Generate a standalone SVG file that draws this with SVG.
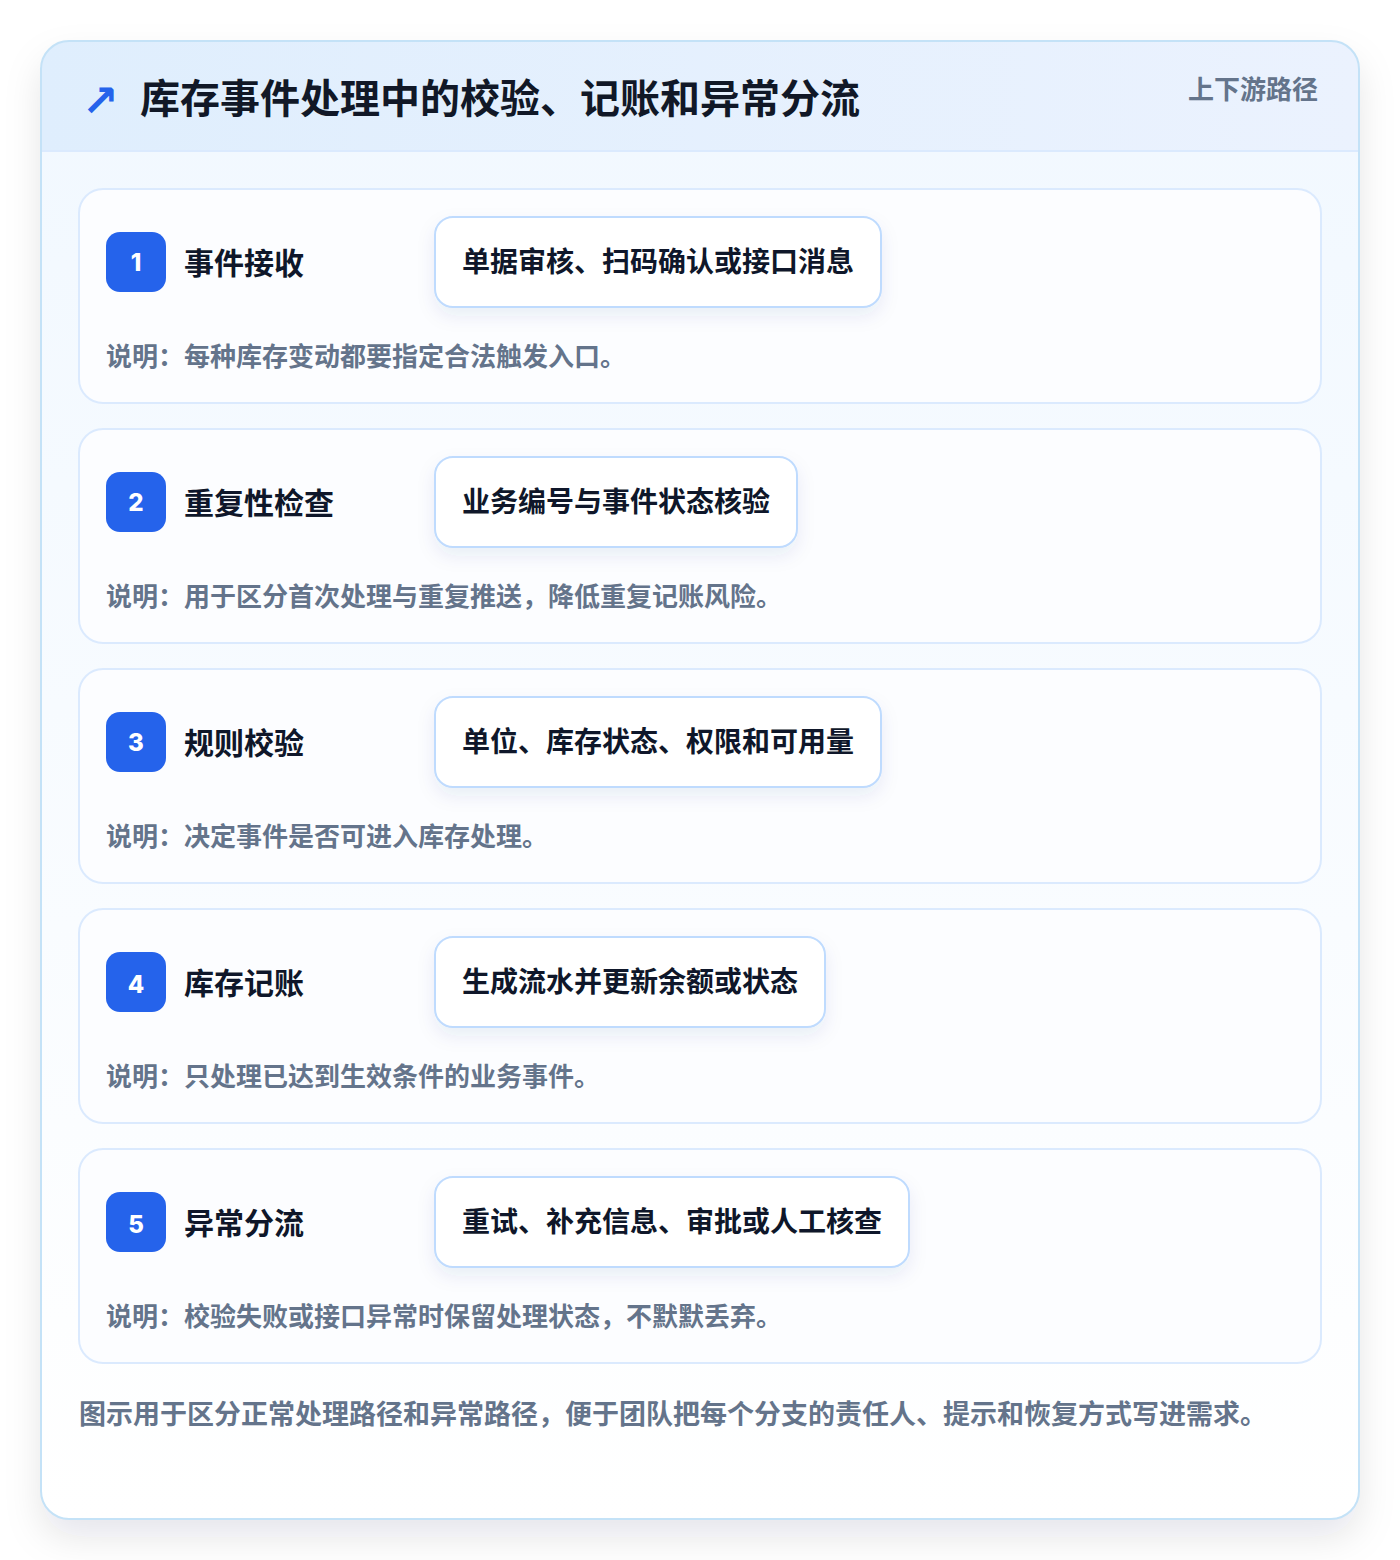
<svg xmlns="http://www.w3.org/2000/svg" width="1400" height="1560" viewBox="0 0 1400 1560">
<defs>
<style>
.cjk{font-family:"Noto Sans CJK SC","Noto Sans",sans-serif;font-weight:700}
.title{font-size:40px;fill:#111827}
.tag{font-size:26px;fill:#64748b}
.card{fill:#fcfdff;stroke:#dbeafe;stroke-width:2}
.badge{fill:#2563eb}
.num{font-family:Inter,"Noto Sans",sans-serif;font-weight:800;font-size:24px;fill:#ffffff}
.stitle{font-size:30px;fill:#0f172a}
.pill{fill:#ffffff;stroke:#bfdbfe;stroke-width:2}
.ptext{font-size:28px;fill:#0f172a}
.desc{font-size:26px;fill:#64748b}
.foot{font-size:27px;fill:#64748b}
</style>
<linearGradient id="hdr" x1="0" y1="0" x2="1" y2="0">
<stop offset="0" stop-color="#dfeefd"/>
<stop offset="1" stop-color="#ebf2fe"/>
</linearGradient>
<linearGradient id="body" x1="0" y1="0" x2="0" y2="1">
<stop offset="0" stop-color="#f1f8ff"/>
<stop offset="0.6" stop-color="#f9fcff"/>
<stop offset="1" stop-color="#ffffff"/>
</linearGradient>
<filter id="outerShadow" x="-10%" y="-10%" width="120%" height="125%">
<feDropShadow dx="0" dy="18" stdDeviation="18" flood-color="#0f172a" flood-opacity="0.10"/>
</filter>
<filter id="pillShadow" x="-10%" y="-30%" width="120%" height="170%">
<feDropShadow dx="0" dy="8" stdDeviation="9" flood-color="#1e3a8a" flood-opacity="0.08"/>
</filter>
<clipPath id="cardClip"><rect x="41" y="41" width="1318" height="1478" rx="28"/></clipPath>
</defs>
<rect width="1400" height="1560" fill="#ffffff"/>
<g id="frame">
<rect x="41" y="41" width="1318" height="1478" rx="28" fill="url(#body)" filter="url(#outerShadow)"/>
<g clip-path="url(#cardClip)">
<rect x="41" y="41" width="1318" height="110" fill="url(#hdr)"/>
<line x1="41" y1="151" x2="1359" y2="151" stroke="#dbeafe" stroke-width="2"/>
</g>
<rect x="41" y="41" width="1318" height="1478" rx="28" fill="none" stroke="#c4e2f7" stroke-width="2"/>
</g>
<g id="header">
<text x="82" y="116" font-family="DejaVu Sans,sans-serif" font-weight="700" font-size="44" fill="#2563eb">↗</text>
<text class="cjk title" x="140" y="113">库存事件处理中的校验、记账和异常分流</text>
<text class="cjk tag" x="1318" y="99" text-anchor="end">上下游路径</text>
</g>
<g id="connectors"></g>
<g id="step1">
<rect class="card" x="79" y="189" width="1242" height="214" rx="24"/>
<rect class="badge" x="106" y="232" width="60" height="60" rx="14"/>
<text class="num" x="136" y="271" text-anchor="middle">1</text>
<text class="cjk stitle" x="184" y="274">事件接收</text>
<rect class="pill" x="435" y="217" width="446" height="90" rx="18" filter="url(#pillShadow)"/>
<text class="cjk ptext" x="462" y="272">单据审核、扫码确认或接口消息</text>
<text class="cjk desc" x="106" y="366">说明：每种库存变动都要指定合法触发入口。</text>
</g>
<g id="step2">
<rect class="card" x="79" y="429" width="1242" height="214" rx="24"/>
<rect class="badge" x="106" y="472" width="60" height="60" rx="14"/>
<text class="num" x="136" y="511" text-anchor="middle">2</text>
<text class="cjk stitle" x="184" y="514">重复性检查</text>
<rect class="pill" x="435" y="457" width="362" height="90" rx="18" filter="url(#pillShadow)"/>
<text class="cjk ptext" x="462" y="512">业务编号与事件状态核验</text>
<text class="cjk desc" x="106" y="606">说明：用于区分首次处理与重复推送，降低重复记账风险。</text>
</g>
<g id="step3">
<rect class="card" x="79" y="669" width="1242" height="214" rx="24"/>
<rect class="badge" x="106" y="712" width="60" height="60" rx="14"/>
<text class="num" x="136" y="751" text-anchor="middle">3</text>
<text class="cjk stitle" x="184" y="754">规则校验</text>
<rect class="pill" x="435" y="697" width="446" height="90" rx="18" filter="url(#pillShadow)"/>
<text class="cjk ptext" x="462" y="752">单位、库存状态、权限和可用量</text>
<text class="cjk desc" x="106" y="846">说明：决定事件是否可进入库存处理。</text>
</g>
<g id="step4">
<rect class="card" x="79" y="909" width="1242" height="214" rx="24"/>
<rect class="badge" x="106" y="952" width="60" height="60" rx="14"/>
<text class="num" x="136" y="993" text-anchor="middle">4</text>
<text class="cjk stitle" x="184" y="994">库存记账</text>
<rect class="pill" x="435" y="937" width="390" height="90" rx="18" filter="url(#pillShadow)"/>
<text class="cjk ptext" x="462" y="992">生成流水并更新余额或状态</text>
<text class="cjk desc" x="106" y="1086">说明：只处理已达到生效条件的业务事件。</text>
</g>
<g id="step5">
<rect class="card" x="79" y="1149" width="1242" height="214" rx="24"/>
<rect class="badge" x="106" y="1192" width="60" height="60" rx="14"/>
<text class="num" x="136" y="1233" text-anchor="middle">5</text>
<text class="cjk stitle" x="184" y="1234">异常分流</text>
<rect class="pill" x="435" y="1177" width="474" height="90" rx="18" filter="url(#pillShadow)"/>
<text class="cjk ptext" x="462" y="1232">重试、补充信息、审批或人工核查</text>
<text class="cjk desc" x="106" y="1326">说明：校验失败或接口异常时保留处理状态，不默默丢弃。</text>
</g>
<g id="footer">
<text class="cjk foot" x="79" y="1424">图示用于区分正常处理路径和异常路径，便于团队把每个分支的责任人、提示和恢复方式写进需求。</text>
</g>
</svg>
